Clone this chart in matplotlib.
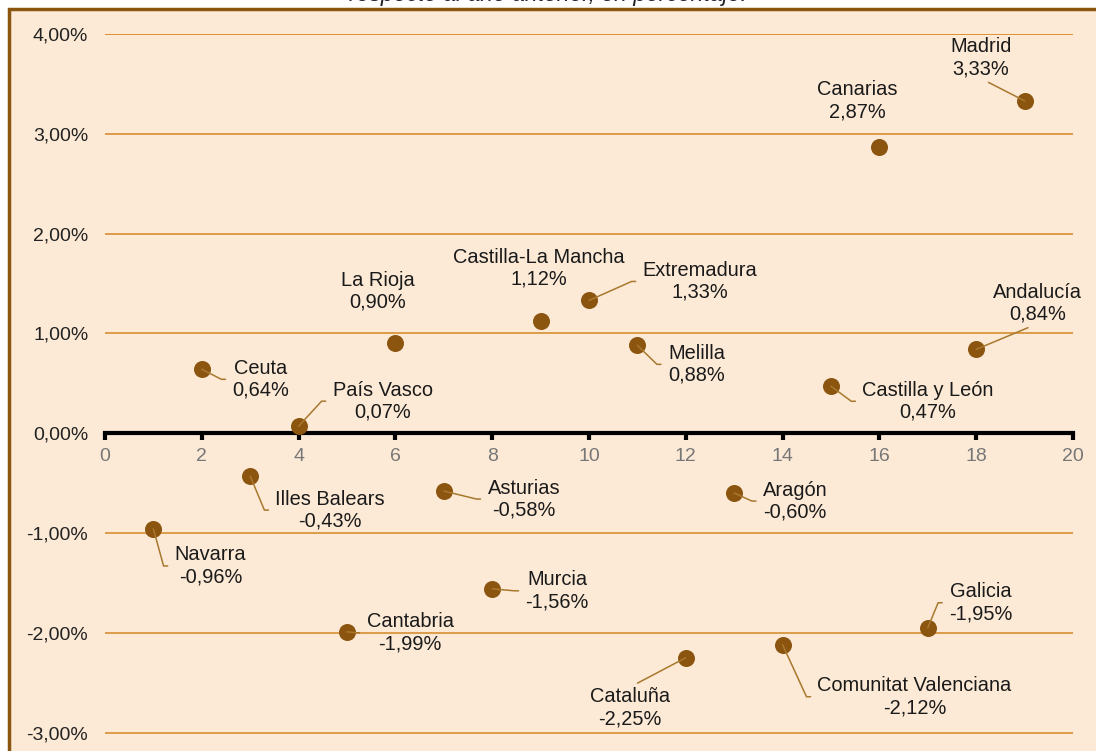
import matplotlib
matplotlib.use("Agg")
import matplotlib.pyplot as plt
from matplotlib.patches import Rectangle

plt.rcParams['font.family'] = ['Liberation Sans', 'DejaVu Sans']

regiones = ['Navarra', 'Ceuta', 'Illes Balears', 'País Vasco', 'Cantabria', 'La Rioja',
            'Asturias', 'Murcia', 'Castilla-La Mancha', 'Extremadura', 'Melilla', 'Cataluña',
            'Aragón', 'Comunitat Valenciana', 'Castilla y León', 'Canarias', 'Galicia',
            'Andalucía', 'Madrid']
posicion = list(range(1, 20))
variacion = [-0.96, 0.64, -0.43, 0.07, -1.99, 0.90, -0.58, -1.56, 1.12, 1.33, 0.88, -2.25,
             -0.60, -2.12, 0.47, 2.87, -1.95, 0.84, 3.33]
y_ticks = [-3, -2, -1, 0, 1, 2, 3, 4]
x_ticks = list(range(0, 21, 2))

# label placement: offset in pixels from the point, and where the leader line attaches
etiquetas = {
    'Navarra': (57, -37, 'r'), 'Ceuta': (59, -10, 'r'), 'Illes Balears': (80, -34, 'r'),
    'País Vasco': (84, 25, 'r'), 'Cantabria': (63, -1, 'r'), 'La Rioja': (-18, 52, None),
    'Asturias': (80, -8, 'r'), 'Murcia': (65, -2, 'r'), 'Castilla-La Mancha': (-2, 53, None),
    'Extremadura': (111, 19, 'r'), 'Melilla': (59, -19, 'r'), 'Cataluña': (-56, -50, 'top'),
    'Aragón': (61, -8, 'r'), 'Comunitat Valenciana': (132, -52, 'r'),
    'Castilla y León': (97, -15, 'r'), 'Canarias': (-22, 46, None), 'Galicia': (53, 25, 'r'),
    'Andalucía': (61, 46, 'bottom'), 'Madrid': (-44, 43, 'bottom'),
}

bg = '#FCEAD6'
marron = '#8B5510'
linea = '#A8782E'

W, H = 1096, 751
fig = plt.figure(figsize=(W / 100, H / 100), dpi=100, facecolor='white')
fig.patches.append(Rectangle((9 / W, -0.05), 1.1, 1 - 9 / H + 0.05, transform=fig.transFigure,
                             facecolor=bg, edgecolor=marron, lw=2.5, zorder=-1))
fig.text(548 / W, 1 - 0.5 / H, 'respecto al año anterior, en porcentaje.', ha='center',
         va='baseline', fontsize=16.5, style='italic', color='#222222', zorder=5)

ax = fig.add_axes([105 / W, 0, (1073 - 105) / W, 1 - 34 / H])
ax.set_facecolor('none')
ax.set_xlim(0, 20)
ax.set_ylim(-3.185, 4.0)

for v in y_ticks:
    if v != 0:
        ax.axhline(v, color='#DD8A25' if v == 4 else '#D9963F', lw=1.3, zorder=1)

ax.spines['left'].set_visible(False)
ax.spines['right'].set_visible(False)
ax.spines['top'].set_visible(False)
ax.spines['bottom'].set_position(('data', 0))
ax.spines['bottom'].set_linewidth(3)
ax.spines['bottom'].set_zorder(2)

ax.set_xticks(x_ticks)
ax.tick_params(axis='x', direction='out', length=5, width=3, color='black',
               labelsize=14, labelcolor='#777777', pad=6)
ax.set_yticks(y_ticks)
ax.set_yticklabels([f'{v:.2f}%'.replace('.', ',') for v in y_ticks])
ax.tick_params(axis='y', length=0, labelsize=14, labelcolor='#222222', pad=12)

ax.scatter(posicion, variacion, s=150, color=marron, zorder=4, linewidths=0)

for x, y, nombre in zip(posicion, variacion, regiones):
    dx, dy, lado = etiquetas[nombre]
    texto = f'{nombre}\n{y:.2f}%'.replace('.', ',')
    kw = dict(xy=(x, y), xytext=(dx, dy), textcoords='offset pixels', ha='center',
              va='center', multialignment='center', fontsize=14.4, color='#1A1A1A',
              zorder=5, annotation_clip=False)
    if lado == 'r':
        kw['arrowprops'] = dict(arrowstyle='-', color=linea, lw=1.1, relpos=(0, 0.5),
                                patchA=None, shrinkA=5, shrinkB=0,
                                connectionstyle='arc,angleA=180,angleB=0,armA=11,armB=0,rad=0')
    elif lado == 'top':
        kw['arrowprops'] = dict(arrowstyle='-', color=linea, lw=1.1, relpos=(0.5, 1),
                                shrinkA=2, shrinkB=0)
    elif lado == 'bottom':
        kw['arrowprops'] = dict(arrowstyle='-', color=linea, lw=1.1, relpos=(0.5, 0),
                                shrinkA=2, shrinkB=0)
    ax.annotate(texto, **kw)

fig.savefig('out.png', dpi=100, facecolor='white')
